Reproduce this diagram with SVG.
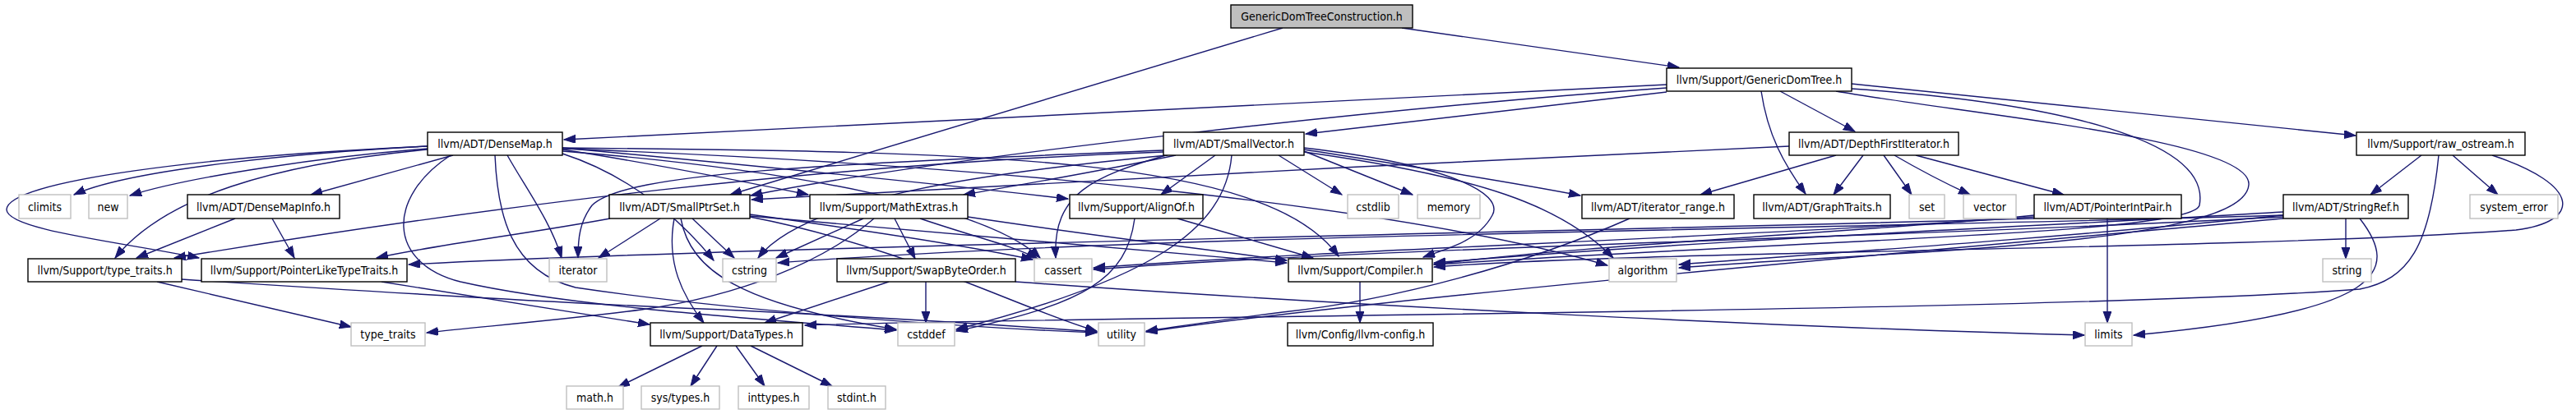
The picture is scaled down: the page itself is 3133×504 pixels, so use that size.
<svg xmlns="http://www.w3.org/2000/svg" width="3133" height="504" viewBox="0 0 3133 504">
<style>
.n rect{fill:#fff;stroke:#000;stroke-width:1.4}
.s rect{fill:#fff;stroke:#bfbfbf;stroke-width:1.4}
.r rect{fill:#bfbfbf;stroke:#000;stroke-width:1.4}
text{font-family:"DejaVu Sans Condensed","DejaVu Sans",sans-serif;font-stretch:condensed;font-size:14px;text-anchor:middle;fill:#000}
.e path{fill:none;stroke:#191970;stroke-width:1.4;marker-end:url(#a)}
</style>
<defs>
<marker id="a" markerWidth="15" markerHeight="11" refX="14" refY="5" orient="auto" markerUnits="userSpaceOnUse"><path d="M0,0L14,5L0,10z" fill="#191970" stroke="#191970" stroke-width="1"/></marker>
</defs>
<rect width="3133" height="504" fill="#fff"/>
<g id="edges" class="e">
<path d="M1560,34 L888,237"/>
<path d="M1705,34 L2042,82"/>
<path d="M2027,103 L686,170"/>
<path d="M2027,107 C1700,130 1150,190 913,238"/>
<path d="M2027,112 L1588,163"/>
<path d="M2165,111 L2256,160"/>
<path d="M2142,111 C2150,165 2170,200 2196,236"/>
<path d="M2252,102 L2865,165"/>
<path d="M2252,108 C2500,125 2690,170 2675,250 C2665,285 2200,292 1744,322"/>
<path d="M2233,111 C2400,140 2740,170 2735,225 C2730,300 2300,305 2042,326"/>
<path d="M520,178 C380,185 160,205 90,237"/>
<path d="M520,181 C400,190 230,215 158,238"/>
<path d="M551,189 L378,237"/>
<path d="M520,182 C330,200 200,240 140,314"/>
<path d="M520,178 C250,190 10,220 8,255 C8,280 150,295 242,314"/>
<path d="M617,189 C640,230 670,270 683,314"/>
<path d="M684,187 C770,215 830,270 868,317"/>
<path d="M684,182 C800,200 900,220 983,237"/>
<path d="M684,180 C900,200 1150,225 1299,242"/>
<path d="M684,184 C950,205 1200,250 1265,314"/>
<path d="M684,180 C1200,185 1540,190 1628,312"/>
<path d="M684,181 C1200,200 1700,250 1955,323"/>
<path d="M548,189 C470,240 470,320 560,343 C700,375 950,390 1090,402"/>
<path d="M602,189 C605,260 620,330 700,350 C900,380 1200,400 1334,405"/>
<path d="M1415,185 C1000,200 600,250 212,314"/>
<path d="M1415,183 C1000,200 760,210 720,250 C705,270 703,290 703,314"/>
<path d="M1420,189 C1200,210 980,240 922,314"/>
<path d="M1430,189 C1330,210 1240,225 1172,237"/>
<path d="M1478,189 L1412,237"/>
<path d="M1418,189 C1330,215 1280,235 1284,314"/>
<path d="M1498,189 C1490,280 1400,340 1163,401"/>
<path d="M1555,189 L1632,237"/>
<path d="M1586,184 L1718,237"/>
<path d="M1586,182 C1700,200 1830,220 1922,238"/>
<path d="M1586,180 C1760,200 1830,235 1815,262 C1800,290 1770,300 1731,313"/>
<path d="M1586,185 C1800,215 1900,250 1962,314"/>
<path d="M2176,178 C1800,195 1200,225 914,243"/>
<path d="M2233,189 L2068,237"/>
<path d="M2266,189 L2230,237"/>
<path d="M2291,189 L2325,237"/>
<path d="M2304,189 C2340,210 2370,225 2396,237"/>
<path d="M2330,189 L2510,237"/>
<path d="M2945,189 L2883,237"/>
<path d="M2983,189 L3038,237"/>
<path d="M2966,189 C2955,300 2930,340 2870,352 C2500,380 1300,385 979,396"/>
<path d="M3031,189 C3140,225 3140,270 3060,280 C2700,305 2000,305 1744,325"/>
<path d="M2853,266 L2853,315"/>
<path d="M2870,266 C2920,330 2900,380 2595,408"/>
<path d="M2777,258 C2500,275 2100,290 1744,320"/>
<path d="M2777,262 C2500,290 2200,310 2042,322"/>
<path d="M2777,264 C2300,290 1700,300 1330,328"/>
<path d="M2777,262 C2200,280 1400,285 946,320"/>
<path d="M2777,266 C2400,300 1700,360 1394,404"/>
<path d="M2563,266 L2563,393"/>
<path d="M2474,262 C2300,280 1900,300 1744,322"/>
<path d="M2474,264 C2100,290 1600,305 1330,326"/>
<path d="M2474,266 C2000,280 900,300 497,322"/>
<path d="M286,266 L166,314"/>
<path d="M331,266 L358,314"/>
<path d="M803,266 L728,314"/>
<path d="M742,266 C640,285 530,298 458,314"/>
<path d="M820,266 C810,320 830,360 856,393"/>
<path d="M828,266 C840,330 900,370 1090,401"/>
<path d="M842,266 L893,314"/>
<path d="M912,261 C1050,280 1180,300 1256,316"/>
<path d="M912,264 C1100,300 1250,380 1334,403"/>
<path d="M912,263 C1200,290 1450,310 1565,320"/>
<path d="M1050,266 L944,314"/>
<path d="M1088,266 L1113,315"/>
<path d="M1119,266 C1190,290 1235,300 1262,315"/>
<path d="M1063,266 C1000,320 900,360 780,377 C680,390 580,398 519,405"/>
<path d="M1177,264 C1350,290 1480,305 1565,317"/>
<path d="M1380,266 C1370,340 1320,370 1163,403"/>
<path d="M1432,266 L1597,314"/>
<path d="M1982,266 C1860,320 1700,365 1560,380 C1480,390 1430,398 1394,403"/>
<path d="M191,343 L427,398"/>
<path d="M221,340 C450,355 700,370 900,378 C1100,388 1250,398 1334,404"/>
<path d="M1654,343 L1654,393"/>
<path d="M854,421 L752,471"/>
<path d="M872,421 L840,470"/>
<path d="M895,421 L930,470"/>
<path d="M913,421 L1012,470"/>
<path d="M1081,343 L930,393"/>
<path d="M1126,343 L1126,393"/>
<path d="M1235,343 C1600,370 2200,400 2535,408"/>
<path d="M464,343 C600,365 700,380 790,395"/>
</g>
<g id="n_GenericDomTreeConstruction" class="r"><rect x="1497" y="6" width="221" height="28"/><text x="1607.5" y="25">GenericDomTreeConstruction.h</text></g>
<g id="n_GenericDomTree" class="n"><rect x="2027" y="83" width="225" height="28"/><text x="2139.5" y="102">llvm/Support/GenericDomTree.h</text></g>
<g id="n_DenseMap" class="n"><rect x="520" y="161" width="164" height="28"/><text x="602" y="180">llvm/ADT/DenseMap.h</text></g>
<g id="n_SmallVector" class="n"><rect x="1415" y="161" width="171" height="28"/><text x="1500.5" y="180">llvm/ADT/SmallVector.h</text></g>
<g id="n_DepthFirstIterator" class="n"><rect x="2176" y="161" width="206" height="28"/><text x="2279" y="180">llvm/ADT/DepthFirstIterator.h</text></g>
<g id="n_raw_ostream" class="n"><rect x="2866" y="161" width="205" height="28"/><text x="2968.5" y="180">llvm/Support/raw_ostream.h</text></g>
<g id="n_climits" class="s"><rect x="23" y="237" width="63" height="29"/><text x="54.5" y="257">climits</text></g>
<g id="n_new" class="s"><rect x="108" y="237" width="47" height="29"/><text x="131.5" y="257">new</text></g>
<g id="n_DenseMapInfo" class="n"><rect x="228" y="237" width="185" height="29"/><text x="320.5" y="257">llvm/ADT/DenseMapInfo.h</text></g>
<g id="n_SmallPtrSet" class="n"><rect x="741" y="237" width="171" height="29"/><text x="826.5" y="257">llvm/ADT/SmallPtrSet.h</text></g>
<g id="n_MathExtras" class="n"><rect x="985" y="237" width="192" height="29"/><text x="1081" y="257">llvm/Support/MathExtras.h</text></g>
<g id="n_AlignOf" class="n"><rect x="1301" y="237" width="162" height="29"/><text x="1382" y="257">llvm/Support/AlignOf.h</text></g>
<g id="n_cstdlib" class="s"><rect x="1639" y="237" width="62" height="29"/><text x="1670" y="257">cstdlib</text></g>
<g id="n_memory" class="s"><rect x="1724" y="237" width="76" height="29"/><text x="1762" y="257">memory</text></g>
<g id="n_iterator_range" class="n"><rect x="1924" y="237" width="185" height="29"/><text x="2016.5" y="257">llvm/ADT/iterator_range.h</text></g>
<g id="n_GraphTraits" class="n"><rect x="2133" y="237" width="166" height="29"/><text x="2216" y="257">llvm/ADT/GraphTraits.h</text></g>
<g id="n_set" class="s"><rect x="2322" y="237" width="43" height="29"/><text x="2343.5" y="257">set</text></g>
<g id="n_vector" class="s"><rect x="2388" y="237" width="64" height="29"/><text x="2420" y="257">vector</text></g>
<g id="n_PointerIntPair" class="n"><rect x="2474" y="237" width="179" height="29"/><text x="2563.5" y="257">llvm/ADT/PointerIntPair.h</text></g>
<g id="n_StringRef" class="n"><rect x="2777" y="237" width="152" height="29"/><text x="2853" y="257">llvm/ADT/StringRef.h</text></g>
<g id="n_system_error" class="s"><rect x="3004" y="237" width="107" height="29"/><text x="3057.5" y="257">system_error</text></g>
<g id="n_type_traits_h" class="n"><rect x="34" y="315" width="187" height="28"/><text x="127.5" y="334">llvm/Support/type_traits.h</text></g>
<g id="n_PointerLikeTypeTraits" class="n"><rect x="245" y="315" width="250" height="28"/><text x="370" y="334">llvm/Support/PointerLikeTypeTraits.h</text></g>
<g id="n_iterator" class="s"><rect x="668" y="315" width="70" height="28"/><text x="703" y="334">iterator</text></g>
<g id="n_cstring" class="s"><rect x="879" y="315" width="65" height="28"/><text x="911.5" y="334">cstring</text></g>
<g id="n_SwapByteOrder" class="n"><rect x="1018" y="315" width="217" height="28"/><text x="1126.5" y="334">llvm/Support/SwapByteOrder.h</text></g>
<g id="n_cassert" class="s"><rect x="1258" y="315" width="70" height="28"/><text x="1293" y="334">cassert</text></g>
<g id="n_Compiler" class="n"><rect x="1567" y="315" width="175" height="28"/><text x="1654.5" y="334">llvm/Support/Compiler.h</text></g>
<g id="n_algorithm" class="s"><rect x="1957" y="315" width="82" height="28"/><text x="1998" y="334">algorithm</text></g>
<g id="n_string" class="s"><rect x="2825" y="315" width="59" height="28"/><text x="2854.5" y="334">string</text></g>
<g id="n_type_traits" class="s"><rect x="427" y="393" width="90" height="28"/><text x="472" y="412">type_traits</text></g>
<g id="n_DataTypes" class="n"><rect x="791" y="393" width="185" height="28"/><text x="883.5" y="412">llvm/Support/DataTypes.h</text></g>
<g id="n_cstddef" class="s"><rect x="1092" y="393" width="69" height="28"/><text x="1126.5" y="412">cstddef</text></g>
<g id="n_utility" class="s"><rect x="1336" y="393" width="56" height="28"/><text x="1364" y="412">utility</text></g>
<g id="n_llvm_config" class="n"><rect x="1566" y="393" width="177" height="28"/><text x="1654.5" y="412">llvm/Config/llvm-config.h</text></g>
<g id="n_limits" class="s"><rect x="2536" y="393" width="57" height="28"/><text x="2564.5" y="412">limits</text></g>
<g id="n_math_h" class="s"><rect x="689" y="470" width="69" height="28"/><text x="723.5" y="489">math.h</text></g>
<g id="n_sys_types_h" class="s"><rect x="780" y="470" width="95" height="28"/><text x="827.5" y="489">sys/types.h</text></g>
<g id="n_inttypes_h" class="s"><rect x="898" y="470" width="86" height="28"/><text x="941" y="489">inttypes.h</text></g>
<g id="n_stdint_h" class="s"><rect x="1007" y="470" width="70" height="28"/><text x="1042" y="489">stdint.h</text></g>
</svg>
